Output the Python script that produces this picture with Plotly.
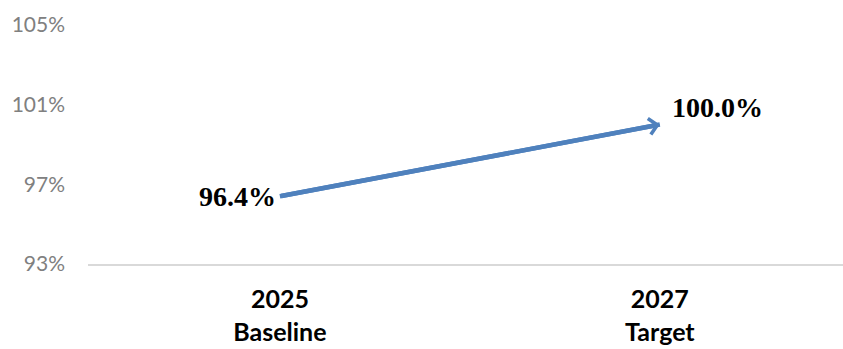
import plotly.graph_objects as go

# Milestone values
periods = ["2025", "2027"]
stages = ["Baseline", "Target"]
values = [96.4, 100.0]

y_ticks = [93, 97, 101, 105]
y_tick_labels = [f"{v}%" for v in y_ticks]

x_pos = list(range(len(periods)))
line_color = "#4F81BD"

fig = go.Figure()

# Trend line between the two milestones
fig.add_trace(go.Scatter(
    x=x_pos, y=values, mode="lines",
    line=dict(color=line_color, width=4.5),
    hoverinfo="skip", showlegend=False,
))

# Open arrow head at the target point
fig.add_annotation(
    x=x_pos[1], y=values[1], ax=x_pos[0], ay=values[0],
    xref="x", yref="y", axref="x", ayref="y",
    text="", showarrow=True, arrowhead=4, arrowsize=0.7,
    arrowwidth=4.5, arrowcolor=line_color,
)

label_font = dict(family="Liberation Serif", size=28, color="#000000")
fig.add_annotation(
    x=x_pos[0], y=values[0], xref="x", yref="y",
    text=f"<b>{values[0]:.1f}%</b>", showarrow=False,
    xanchor="right", yanchor="middle", xshift=-2, yshift=0,
    font=label_font,
)
fig.add_annotation(
    x=x_pos[1], y=values[1], xref="x", yref="y",
    text=f"<b>{values[1]:.1f}%</b>", showarrow=False,
    xanchor="left", yanchor="middle", xshift=10, yshift=17,
    font=label_font,
)

tick_text = [f"<b>{p}</b><br><b>{s}</b>" for p, s in zip(periods, stages)]

fig.update_layout(
    width=843, height=349,
    margin=dict(l=88, r=0, t=25, b=85),
    paper_bgcolor="white", plot_bgcolor="white",
    xaxis=dict(
        range=[-0.505, 1.482],
        tickmode="array", tickvals=x_pos, ticktext=tick_text,
        tickfont=dict(family="Lato", size=25, color="#000000"),
        showgrid=False, zeroline=False,
        showline=True, linecolor="#D9D9D9", linewidth=2,
        ticks="", ticklabelstandoff=12,
    ),
    yaxis=dict(
        range=[93, 105],
        tickmode="array", tickvals=y_ticks, ticktext=y_tick_labels,
        tickfont=dict(family="Lato", size=21, color="#808080"),
        showgrid=False, zeroline=False, showline=False,
        ticks="", ticklabelstandoff=22,
    ),
)

fig.write_html("out.html")
